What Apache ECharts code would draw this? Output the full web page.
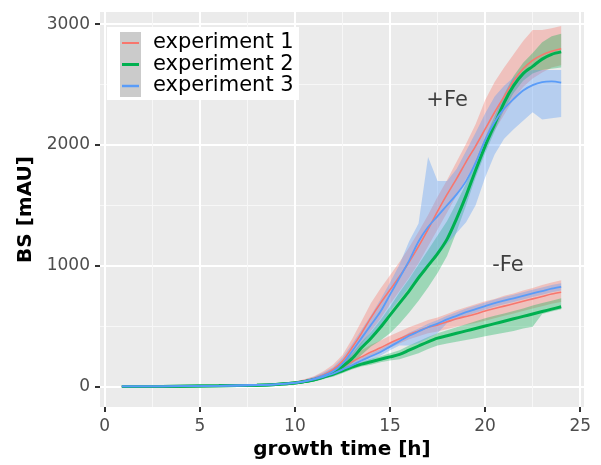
<!DOCTYPE html>
<html>
<head>
<meta charset="utf-8">
<script src="https://cdn.jsdelivr.net/npm/echarts@6/dist/echarts.min.js"></script>
<style>html,body{margin:0;padding:0;background:#fff}#c{width:601px;height:465px}</style>
</head>
<body>
<div id="c"></div>
<script>
// growth time [h]
const t = [0.9, 2, 4, 6, 8, 9, 10, 10.5, 11, 11.5, 12, 12.5, 13, 13.5, 14, 14.5, 15, 15.5, 16, 16.5, 17, 17.5, 18, 18.5, 19, 19.5, 20, 20.5, 21, 21.5, 22, 22.5, 23, 23.5, 24];

// +Fe
const exp1Fe = [0,0,2,5,12,18,32,45,65,95,140,210,320,440,570,690,800,910,1030,1160,1300,1450,1590,1720,1860,1990,2130,2270,2400,2530,2630,2700,2745,2775,2795];
const exp1FeHi = [5,5,7,10,17,24,42,60,85,125,180,260,390,540,690,810,920,1030,1150,1280,1420,1570,1710,1860,2010,2170,2370,2520,2640,2750,2860,2950,2950,2965,2985];
const exp1FeLo = [-5,-5,-3,0,6,12,22,32,50,75,105,160,250,350,460,560,680,790,900,1020,1160,1300,1440,1580,1720,1850,1980,2120,2250,2380,2480,2550,2600,2640,2660];

const exp2Fe = [0,0,2,5,11,17,28,40,55,80,115,165,230,320,400,490,590,690,790,900,1000,1100,1220,1390,1580,1790,1990,2170,2350,2490,2590,2650,2710,2750,2770];
const exp2FeHi = [4,4,6,9,16,22,36,52,72,100,140,200,270,370,450,550,660,780,890,1010,1130,1250,1370,1520,1680,1870,2060,2240,2420,2570,2680,2760,2850,2900,2920];
const exp2FeLo = [-4,-4,-2,1,6,12,20,28,40,60,90,130,190,260,330,380,440,520,610,710,820,940,1080,1280,1500,1730,1930,2110,2290,2430,2530,2590,2620,2630,2640];

const exp3Fe = [0,0,2,5,12,18,30,42,62,90,125,190,290,400,510,620,760,900,1040,1200,1320,1410,1500,1590,1700,1850,2040,2190,2300,2380,2450,2495,2520,2525,2515];
const exp3FeHi = [5,5,7,10,17,24,40,55,80,115,160,240,350,470,590,720,860,1010,1200,1350,1900,1700,1700,1800,1950,2100,2260,2400,2490,2560,2600,2620,2620,2620,2620];
const exp3FeLo = [-5,-5,-3,0,6,12,20,30,45,65,90,140,220,310,400,500,620,720,820,910,1000,1080,1180,1270,1360,1500,1730,1920,2050,2130,2200,2270,2210,2220,2230];

// -Fe
const exp1NoFe = [0,0,2,5,12,18,32,45,62,88,120,160,205,245,285,320,360,395,430,460,490,510,535,560,580,600,625,645,665,685,705,725,745,765,780];
const exp1NoFeHi = [5,5,7,10,17,24,42,57,77,108,150,200,255,300,345,380,420,455,490,520,550,570,600,630,655,680,705,725,750,770,795,815,840,860,880];
const exp1NoFeLo = [-5,-5,-3,0,7,12,24,35,50,73,100,135,175,210,245,280,320,355,390,415,440,455,475,495,510,525,545,565,585,605,625,645,665,685,700];

const exp2NoFe = [0,0,2,5,11,17,28,40,55,78,100,130,160,185,205,225,245,265,300,335,370,400,420,440,460,480,500,520,540,560,580,600,620,640,660];
const exp2NoFeHi = [4,4,6,9,15,22,36,50,67,93,120,150,180,205,230,250,275,300,340,375,410,440,465,490,515,540,565,585,605,625,645,670,690,710,730];
const exp2NoFeLo = [-4,-4,-2,1,7,12,20,30,43,63,80,110,140,165,180,200,215,225,250,275,310,340,355,370,385,400,415,430,445,460,480,495,600,620,640];

const exp3NoFe = [0,0,2,5,12,18,30,42,58,80,105,140,175,215,250,285,330,375,420,455,490,520,555,585,615,640,665,690,710,730,750,770,790,810,825];
const exp3NoFeHi = [4,4,6,9,16,23,38,52,70,95,125,160,200,240,275,310,355,400,445,480,520,550,585,615,645,670,695,720,740,760,780,800,820,840,855];
const exp3NoFeLo = [-4,-4,-2,1,8,13,22,32,46,65,85,120,150,190,220,255,300,340,340,360,400,440,525,555,585,610,635,660,680,700,720,740,760,780,795];

const seriesNames = ['experiment 1', 'experiment 2', 'experiment 3'];
const xTicks = [0, 5, 10, 15, 20, 25];
const xMinorTicks = [2.5, 7.5, 12.5, 17.5, 22.5];
const yTicks = [0, 1000, 2000, 3000];
const yMinorTicks = [500, 1500, 2500];
const annotLabels = ['+Fe', '-Fe'];
const annotX = [18.0, 21.2];
const annotY = [2370, 1000];

const colors = ['#F8766D', '#00B050', '#5A9CF8'];
const fills = ['rgba(248,118,109,0.36)', 'rgba(0,176,80,0.33)', 'rgba(90,156,248,0.36)'];
const FONT = 'DejaVu Sans';

function ribbon(lo, hi, fill) {
  return {
    type: 'custom',
    silent: true,
    data: t.map((x, i) => [x, lo[i], hi[i]]),
    encode: { x: 0, y: [1, 2] },
    renderItem: function (params, api) {
      if (params.dataIndex !== 0) return null;
      const pts = [];
      for (let i = 0; i < t.length; i++) pts.push(api.coord([t[i], hi[i]]));
      for (let i = t.length - 1; i >= 0; i--) pts.push(api.coord([t[i], lo[i]]));
      return { type: 'polygon', shape: { points: pts }, style: { fill: fill } };
    },
    z: 1
  };
}
function line(vals, idx, width) {
  return {
    type: 'line',
    name: seriesNames[idx],
    data: t.map((x, i) => [x, vals[i]]),
    smooth: 0.3,
    showSymbol: false,
    lineStyle: { color: colors[idx], width: width },
    itemStyle: { color: colors[idx] },
    silent: true,
    z: 3
  };
}

const series = [
  ribbon(exp1FeLo, exp1FeHi, fills[0]),
  ribbon(exp1NoFeLo, exp1NoFeHi, fills[0]),
  ribbon(exp2FeLo, exp2FeHi, fills[1]),
  ribbon(exp2NoFeLo, exp2NoFeHi, fills[1]),
  ribbon(exp3FeLo, exp3FeHi, fills[2]),
  ribbon(exp3NoFeLo, exp3NoFeHi, fills[2]),
  line(exp1Fe, 0, 1.6),
  line(exp1NoFe, 0, 1.6),
  line(exp2Fe, 1, 3),
  line(exp2NoFe, 1, 3),
  line(exp3Fe, 2, 1.8),
  line(exp3NoFe, 2, 1.8),
  {
    type: 'scatter',
    data: annotX.map((x, i) => [x, annotY[i], annotLabels[i]]),
    symbolSize: 1,
    itemStyle: { color: 'transparent' },
    silent: true,
    label: { show: true, position: 'inside', formatter: p => p.value[2], fontFamily: FONT, fontSize: 21, color: '#111' },
    z: 5
  }
];

const axisCommonX = { type: 'value', min: -0.25, max: 25.2 };
const axisCommonY = { type: 'value', min: -170, max: 3100 };

const option = {
  animation: false,
  backgroundColor: '#ffffff',
  grid: { left: 100, top: 12, width: 484, height: 395, show: true, backgroundColor: '#EBEBEB', borderWidth: 0 },
  xAxis: [
    Object.assign({}, axisCommonX, {
      name: 'growth time [h]', nameLocation: 'middle', nameGap: 30,
      nameTextStyle: { fontFamily: FONT, fontSize: 20, fontWeight: 'bold', color: '#000' },
      axisLine: { show: false, onZero: false },
      axisTick: { show: true, length: 5, lineStyle: { color: '#333', width: 2 }, customValues: xTicks },
      axisLabel: { customValues: xTicks, fontFamily: FONT, fontSize: 17, color: '#4D4D4D', margin: 11, formatter: v => String(v) },
      splitLine: { show: true, lineStyle: { color: '#ffffff', width: 2 } }
    }),
    Object.assign({}, axisCommonX, {
      position: 'bottom',
      axisLine: { show: false, onZero: false },
      axisTick: { show: false, customValues: xMinorTicks },
      axisLabel: { show: false, customValues: xMinorTicks },
      splitLine: { show: true, lineStyle: { color: '#F7F7F7', width: 1 } }
    })
  ],
  yAxis: [
    Object.assign({}, axisCommonY, {
      name: 'BS [mAU]', nameLocation: 'middle', nameGap: 57,
      nameTextStyle: { fontFamily: FONT, fontSize: 20, fontWeight: 'bold', color: '#000' },
      axisLine: { show: false, onZero: false },
      axisTick: { show: true, length: 5, lineStyle: { color: '#333', width: 2 }, customValues: yTicks },
      axisLabel: { customValues: yTicks, fontFamily: FONT, fontSize: 17, color: '#4D4D4D', margin: 10, formatter: v => String(v) },
      splitLine: { show: true, lineStyle: { color: '#ffffff', width: 2 } }
    }),
    Object.assign({}, axisCommonY, {
      position: 'left',
      axisLine: { show: false, onZero: false },
      axisTick: { show: false, customValues: yMinorTicks },
      axisLabel: { show: false, customValues: yMinorTicks },
      splitLine: { show: true, lineStyle: { color: '#F7F7F7', width: 1 } }
    })
  ],
  series: series,
  graphic: [
    { type: 'rect', shape: { x: 107, y: 27, width: 192, height: 73 }, style: { fill: '#ffffff' }, z: 10, silent: true },
    { type: 'rect', shape: { x: 120, y: 32, width: 21, height: 65 }, style: { fill: '#CBCBCB' }, z: 11, silent: true },
    { type: 'line', shape: { x1: 122, y1: 43, x2: 139, y2: 43 }, style: { stroke: colors[0], lineWidth: 2 }, z: 12, silent: true },
    { type: 'line', shape: { x1: 122, y1: 64.5, x2: 139, y2: 64.5 }, style: { stroke: colors[1], lineWidth: 3 }, z: 12, silent: true },
    { type: 'line', shape: { x1: 122, y1: 86, x2: 139, y2: 86 }, style: { stroke: colors[2], lineWidth: 2.5 }, z: 12, silent: true },
    { type: 'text', x: 153, y: 43, style: { text: seriesNames[0], font: '21px "DejaVu Sans"', fill: '#000', verticalAlign: 'middle' }, z: 12, silent: true },
    { type: 'text', x: 153, y: 64.5, style: { text: seriesNames[1], font: '21px "DejaVu Sans"', fill: '#000', verticalAlign: 'middle' }, z: 12, silent: true },
    { type: 'text', x: 153, y: 86, style: { text: seriesNames[2], font: '21px "DejaVu Sans"', fill: '#000', verticalAlign: 'middle' }, z: 12, silent: true }
  ]
};

const chart = echarts.init(document.getElementById('c'), null, { renderer: 'canvas' });
chart.setOption(option);
</script>
</body>
</html>
